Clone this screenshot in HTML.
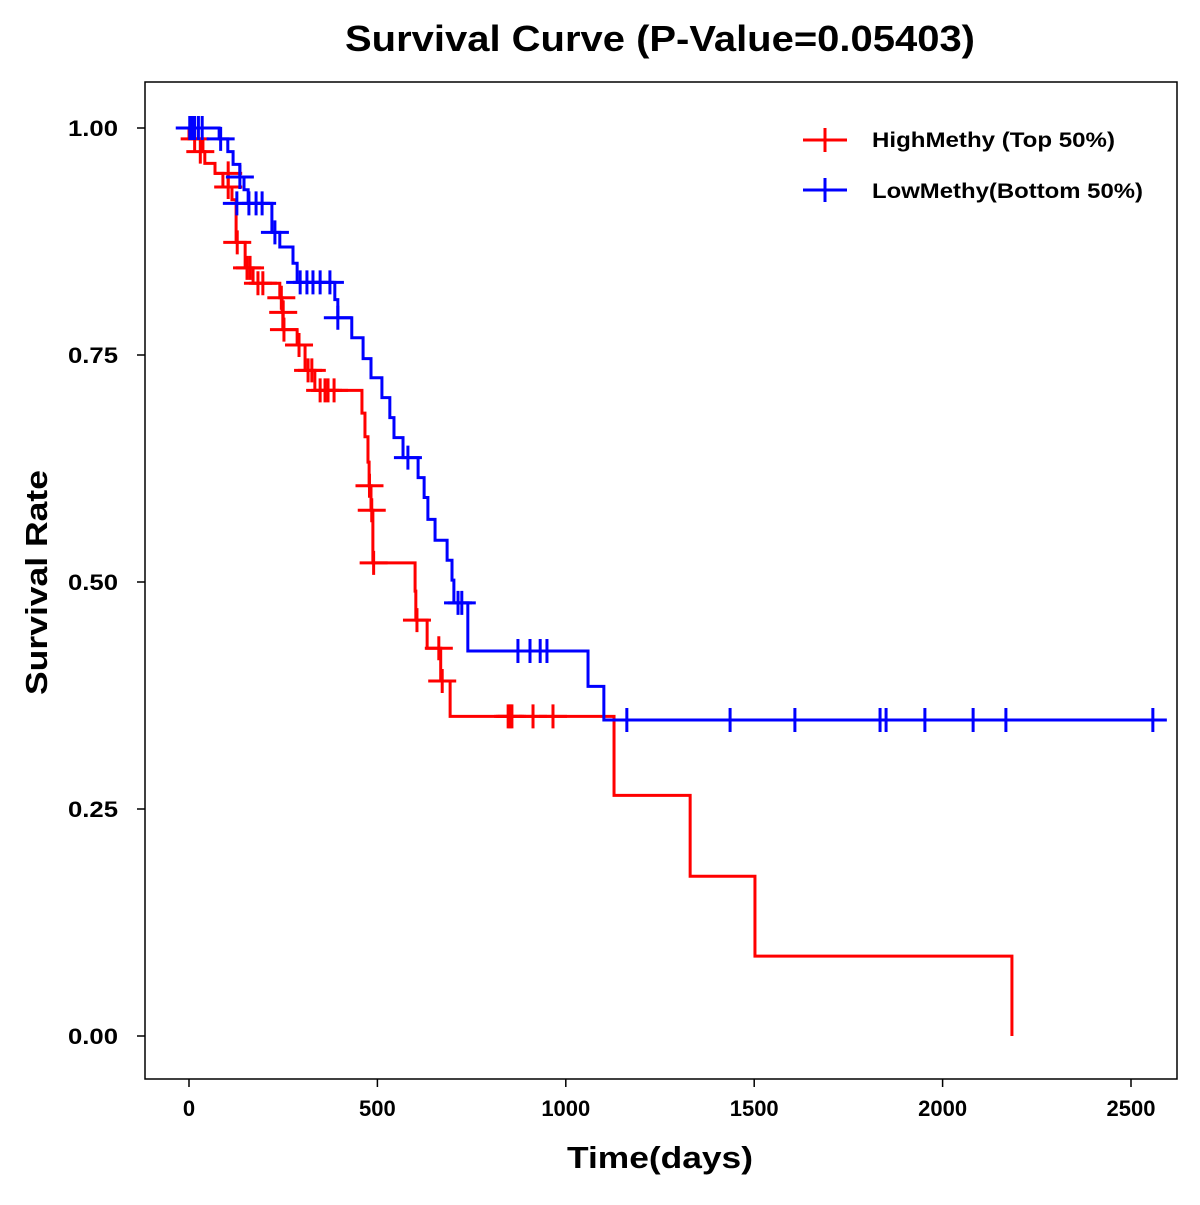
<!DOCTYPE html>
<html><head><meta charset="utf-8"><style>
body{margin:0;background:#fff;}
svg text{font-family:"Liberation Sans",Arial,sans-serif;font-weight:bold;}
</style></head><body>
<svg id="chart" width="1200" height="1200" xmlns="http://www.w3.org/2000/svg">
<text x="345" y="51" font-size="36" textLength="630" lengthAdjust="spacingAndGlyphs">Survival Curve (P-Value=0.05403)</text>
<rect x="145" y="82" width="1032" height="997" fill="none" stroke="#000" stroke-width="1.5"/>
<g id="axes"></g>
<g id="series"></g>
<text x="567" y="1168" font-size="31" textLength="186" lengthAdjust="spacingAndGlyphs">Time(days)</text>
<text transform="translate(47,695) rotate(-90)" font-size="31" textLength="225" lengthAdjust="spacingAndGlyphs">Survival Rate</text>
<g>
<g>
<line x1="803" y1="140" x2="847" y2="140" stroke="#f00" stroke-width="3"/><line x1="825" y1="128" x2="825" y2="152" stroke="#f00" stroke-width="3"/>
<text x="872" y="147" font-size="21" textLength="243" lengthAdjust="spacingAndGlyphs">HighMethy (Top 50%)</text></g>
<g>
<line x1="803" y1="190" x2="847" y2="190" stroke="#00f" stroke-width="3"/><line x1="825" y1="178" x2="825" y2="202" stroke="#00f" stroke-width="3"/>
<text x="872" y="198" font-size="21" textLength="271" lengthAdjust="spacingAndGlyphs">LowMethy(Bottom 50%)</text></g>
</g>
</svg>
<script>
const xTicks=[0,500,1000,1500,2000,2500];
const yTicks=[0,0.25,0.5,0.75,1.0];
const yTickLabels=["0.00","0.25","0.50","0.75","1.00"];
const highTimes=[0,37,42,69,90,114,125,149,170,241,247,249,287,308,334,459,467,475,478,483,488,600,602,632,668,693,1128,1330,1502,2184];
const highSurv=[0.988,0.974,0.961,0.950,0.935,0.921,0.874,0.846,0.829,0.813,0.797,0.778,0.761,0.733,0.711,0.686,0.660,0.632,0.606,0.579,0.521,0.490,0.458,0.427,0.391,0.352,0.265,0.176,0.088,0];
const highCensorTimes=[15,30,104,104,128,154,162,183,196,245,250,252,292,316,326,348,361,369,385,479,485,490,605,663,672,847,852,857,913,966];
const highCensorSurv=[0.988,0.974,0.950,0.935,0.874,0.846,0.846,0.829,0.829,0.813,0.797,0.778,0.761,0.733,0.733,0.711,0.711,0.711,0.711,0.606,0.579,0.521,0.458,0.427,0.391,0.352,0.352,0.352,0.352,0.352];
const lowTimes=[80,103,117,135,146,157,220,241,276,287,387,395,432,462,483,512,533,544,568,608,624,634,653,685,698,703,740,1059,1101];
const lowSurv=[0.988,0.974,0.960,0.946,0.932,0.917,0.885,0.869,0.851,0.830,0.811,0.791,0.769,0.746,0.725,0.703,0.681,0.659,0.637,0.615,0.593,0.569,0.546,0.524,0.502,0.477,0.424,0.385,0.348];
const lowCensorTimes=[2,8,15,25,35,84,135,127,159,178,194,228,295,313,329,348,374,395,581,714,724,873,905,932,950,1162,1436,1608,1834,1850,1953,2081,2168,2558];
const lowCensorSurv=[1,1,1,1,1,0.988,0.946,0.917,0.917,0.917,0.917,0.885,0.830,0.830,0.830,0.830,0.830,0.791,0.637,0.477,0.477,0.424,0.424,0.424,0.424,0.348,0.348,0.348,0.348,0.348,0.348,0.348,0.348,0.348];

const NS="http://www.w3.org/2000/svg";
const X=d=>189+d*942/2500;
const Y=s=>1036-s*908;
const axes=document.getElementById('axes'), series=document.getElementById('series');
function mk(tag,attrs,parent){const e=document.createElementNS(NS,tag);for(const k in attrs)e.setAttribute(k,attrs[k]);parent.appendChild(e);return e;}
xTicks.forEach(t=>{
  const l=mk('line',{x1:X(t),x2:X(t),y1:1079,y2:1087,stroke:'#000','stroke-width':1.5},axes);
  
  
  const tx=mk('text',{x:X(t),y:1116,'font-size':22,'text-anchor':'middle'},axes);tx.textContent=t;
  
  
});
yTicks.forEach((t,i)=>{
  const l=mk('line',{x1:137,x2:145,y1:Y(t),y2:Y(t),stroke:'#000','stroke-width':1.5},axes);
  
  
  const tx=mk('text',{x:68,y:Y(t)+8,'font-size':22,textLength:50,lengthAdjust:'spacingAndGlyphs'},axes);tx.textContent=yTickLabels[i];
  
  
});
function drawSeries(times,surv,cT,cS,endT,color,name){
  let d='M'+X(-18)+','+Y(1);
  for(let i=0;i<times.length;i++){d+=' H'+X(times[i])+' V'+Y(surv[i]);}
  if(endT!==null) d+=' H'+X(endT);
  const p=mk('path',{d:d,fill:'none',stroke:color,'stroke-width':3},series);
  
  
  cT.forEach((t,i)=>{
    const g=mk('path',{d:'M'+(X(t)-14)+','+Y(cS[i])+' h28 M'+X(t)+','+(Y(cS[i])-12)+' v24',stroke:color,'stroke-width':3,fill:'none'},series);
    
    
  });
}
drawSeries(highTimes,highSurv,highCensorTimes,highCensorSurv,null,'#f00','high-methy');
drawSeries(lowTimes,lowSurv,lowCensorTimes,lowCensorSurv,2558,'#00f','low-methy');
</script>
</body></html>
